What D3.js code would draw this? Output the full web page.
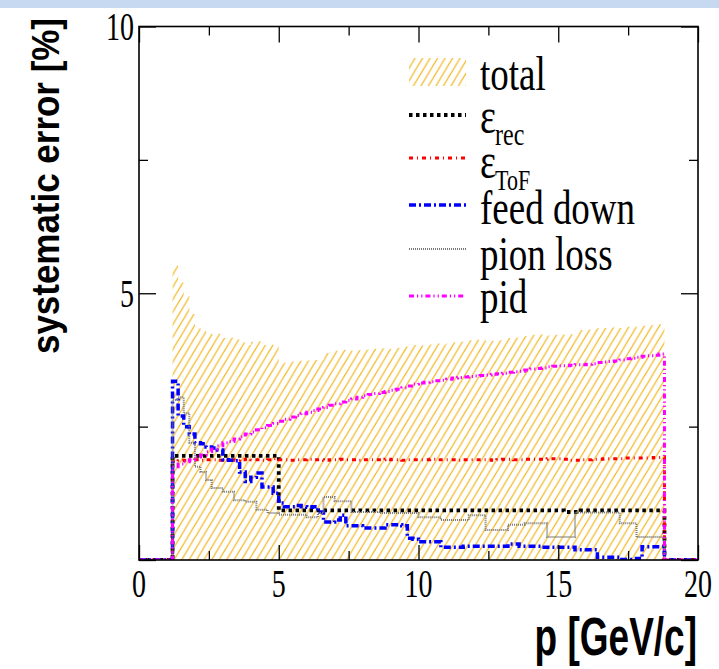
<!DOCTYPE html>
<html><head><meta charset="utf-8">
<script src="https://cdn.jsdelivr.net/npm/d3@7"></script>
<style>body{margin:0;background:#fff}svg{display:block}</style>
</head><body>
<svg id="c" width="719" height="669"></svg>
<script>
// ---------- data ----------
const pEdges = [1.2,1.4,1.6,1.8,2.0,2.2,2.4,2.6,2.8,3.0,
  3.2,3.4,3.6,3.8,4.0,4.2,4.4,4.6,4.8,5.0,
  5.2,5.4,5.6,5.8,6.0,6.2,6.4,6.6,6.8,7.0,
  7.2,7.4,7.6,7.8,8.0,8.2,8.4,8.6,8.8,9.0,
  9.2,9.4,9.6,9.8,10.0,10.2,10.4,10.6,10.8,11.0,
  11.2,11.4,11.6,11.8,12.0,12.2,12.4,12.6,12.8,13.0,
  13.2,13.4,13.6,13.8,14.0,14.2,14.4,14.6,14.8,15.0,
  15.2,15.4,15.6,15.8,16.0,16.2,16.4,16.6,16.8,17.0,
  17.2,17.4,17.6,17.8,18.0,18.2,18.4,18.6,18.8];

const total = [5.52,5.2,4.95,4.61,4.35,4.32,4.27,4.23,4.24,4.16,
  4.17,4.14,4.08,4.03,4.09,4.1,4.03,4.04,4.03,3.68,
  3.7,3.72,3.73,3.74,3.74,3.75,3.75,3.88,3.9,3.92,
  3.94,3.93,3.92,3.93,3.94,3.95,3.96,3.97,3.95,3.96,
  3.98,4.0,4.0,4.03,4.02,4.03,4.04,4.06,4.04,4.06,
  4.08,4.09,4.1,4.12,4.13,4.14,4.1,4.11,4.12,4.13,
  4.16,4.17,4.18,4.2,4.22,4.22,4.23,4.21,4.22,4.23,
  4.22,4.23,4.31,4.31,4.32,4.33,4.35,4.35,4.36,4.37,
  4.35,4.37,4.38,4.36,4.39,4.4,4.41,4.42];

const effRec = [1.95,1.95,1.95,1.95,1.95,1.95,1.95,1.95,1.95,1.95,
  1.95,1.95,1.95,1.95,1.95,1.95,1.95,1.95,1.95,0.93,
  0.93,0.93,0.93,0.93,0.93,0.93,0.93,0.93,0.93,0.93,
  0.93,0.93,0.93,0.93,0.93,0.93,0.93,0.93,0.93,0.93,
  0.93,0.93,0.93,0.93,0.93,0.93,0.93,0.93,0.93,0.93,
  0.93,0.93,0.93,0.93,0.93,0.93,0.93,0.93,0.93,0.93,
  0.93,0.93,0.93,0.93,0.93,0.93,0.93,0.93,0.93,0.93,
  0.9,0.9,0.9,0.93,0.93,0.93,0.93,0.93,0.93,0.93,
  0.93,0.93,0.93,0.93,0.93,0.93,0.93,0.93];

const effToF = [1.84,1.86,1.87,1.87,1.88,1.87,1.88,1.88,1.87,1.88,
  1.88,1.87,1.88,1.89,1.88,1.88,1.87,1.88,1.9,1.88,
  1.88,1.87,1.88,1.88,1.89,1.88,1.88,1.87,1.88,1.88,
  1.89,1.88,1.88,1.87,1.88,1.88,1.88,1.88,1.89,1.88,
  1.88,1.87,1.88,1.88,1.88,1.88,1.89,1.88,1.88,1.88,
  1.88,1.87,1.88,1.88,1.88,1.88,1.88,1.87,1.88,1.89,
  1.89,1.88,1.88,1.89,1.89,1.89,1.89,1.9,1.9,1.9,
  1.89,1.87,1.87,1.88,1.88,1.89,1.89,1.9,1.9,1.9,
  1.9,1.91,1.91,1.91,1.91,1.91,1.92,1.92];

const feedDown = [3.35,2.7,2.5,2.36,2.2,2.18,2.12,2.1,2.06,1.88,
  1.87,1.86,1.65,1.47,1.55,1.63,1.37,1.37,1.25,1.07,
  1.0,1.0,1.02,1.0,0.99,1.0,0.9,0.71,0.71,0.75,
  0.84,0.64,0.64,0.64,0.6,0.6,0.6,0.6,0.66,0.66,
  0.66,0.64,0.41,0.39,0.34,0.34,0.34,0.34,0.24,0.24,
  0.24,0.24,0.26,0.26,0.26,0.26,0.26,0.26,0.26,0.26,
  0.3,0.3,0.26,0.26,0.26,0.26,0.24,0.24,0.24,0.24,
  0.24,0.24,0.19,0.19,0.19,0.19,0.05,0.05,0.05,0.05,
  0.01,0.01,0.01,0.03,0.25,0.25,0.25,0.25];

const pionLoss = [3.0,3.05,2.75,2.2,1.75,1.65,1.5,1.35,1.35,1.28,
  1.28,1.12,1.12,1.09,1.09,0.94,0.94,0.88,0.88,0.85,
  0.85,0.85,0.85,0.85,0.8,0.8,0.88,1.18,1.18,1.1,
  1.1,1.1,0.9,0.9,0.9,0.9,0.9,0.88,0.88,0.88,
  0.88,0.88,0.88,0.88,0.8,0.8,0.8,0.8,0.75,0.75,
  0.75,0.75,0.75,0.84,0.84,0.84,0.56,0.56,0.56,0.56,
  0.66,0.66,0.66,0.69,0.69,0.69,0.69,0.43,0.43,0.43,
  0.43,0.43,0.89,0.89,0.89,0.89,0.89,0.89,0.89,0.89,
  0.69,0.69,0.69,0.43,0.43,0.43,0.43,0.43];

const pid = [1.75,1.8,1.84,1.88,1.93,1.97,2.03,2.08,2.14,2.2,
  2.22,2.27,2.31,2.36,2.4,2.44,2.48,2.52,2.56,2.6,
  2.64,2.68,2.71,2.74,2.77,2.8,2.83,2.86,2.9,2.93,
  2.96,2.99,3.02,3.05,3.08,3.1,3.12,3.14,3.16,3.18,
  3.2,3.23,3.26,3.3,3.32,3.33,3.34,3.36,3.37,3.39,
  3.41,3.42,3.43,3.44,3.45,3.46,3.47,3.48,3.49,3.5,
  3.52,3.53,3.54,3.56,3.58,3.59,3.6,3.62,3.63,3.64,
  3.64,3.65,3.66,3.66,3.67,3.68,3.7,3.71,3.72,3.73,
  3.75,3.77,3.78,3.8,3.82,3.83,3.84,3.86];

const xMajorTicks = [0,5,10,15,20];
const xMinorTicks = [2.5,7.5,12.5,17.5];
const yMajorTicks = [0,5,10];
const yMinorTicks = [2.5,7.5];
const xTickLabels = ["0","5","10","15","20"];
const yTickLabels = [{v:5,t:"5"},{v:10,t:"10"}];

// ---------- layout ----------
const svg = d3.select("#c");
const X0 = 139, X1 = 698, Y0 = 560, Y1 = 26.5;
const x = d3.scaleLinear().domain([0,20]).range([X0,X1]);
const y = d3.scaleLinear().domain([0,10]).range([Y0,Y1]);

svg.append("rect").attr("x",0).attr("y",0).attr("width",719).attr("height",8).attr("fill","#c6d9f0");

const defs = svg.append("defs");
const hw = 7.5, hh = 12.5;
const pat = defs.append("pattern").attr("id","hatch").attr("patternUnits","userSpaceOnUse")
  .attr("width",hw).attr("height",hh);
pat.append("path")
  .attr("d",`M0,${hh} L${hw},0 M${-hw/2},${hh/2} L${hw/2},${-hh/2} M${hw/2},${hh*1.5} L${hw*1.5},${hh/2}`)
  .attr("stroke","#f3bb2c").attr("stroke-width",1.3).attr("fill","none");
defs.append("clipPath").attr("id","frameClip").append("rect")
  .attr("x",X0).attr("y",Y1).attr("width",X1-X0).attr("height",Y0-Y1);

const plot = svg.append("g").attr("clip-path","url(#frameClip)");

// total hatched area
const bins = total.map((v,i)=>({a:pEdges[i], b:pEdges[i+1], v}));
const areaPts = [];
bins.forEach(d=>{ areaPts.push([d.a,d.v]); areaPts.push([d.b,d.v]); });
plot.append("path")
  .attr("d", d3.area().x(d=>x(d[0])).y0(y(0)).y1(d=>y(d[1]))(areaPts))
  .attr("fill","url(#hatch)");

function histPoints(vals){
  const pts = [[0,0],[pEdges[0],0]];
  vals.forEach((v,i)=>{ pts.push([pEdges[i],v]); pts.push([pEdges[i+1],v]); });
  pts.push([pEdges[pEdges.length-1],0]); pts.push([20,0]);
  return pts;
}
const line = d3.line().x(d=>x(d[0])).y(d=>y(d[1]));

const series = [
  {name:"rec",  vals:effRec,   color:"#000000", w:3.8, dash:"3.5 3.5"},
  {name:"tof",  vals:effToF,   color:"#ff0000", w:3,   dash:"4 4 1 4"},
  {name:"fd",   vals:feedDown, color:"#0000ff", w:3.5, dash:"7 3 2 3"},
  {name:"pion", vals:pionLoss, color:"#7a7a7a", w:2,   dash:"1 1"},
  {name:"pid",  vals:pid,      color:"#ff00ff", w:3,   dash:"5 3 1.2 3 1.2 3"}
];
series.forEach(s=>{
  plot.append("path").attr("d", line(histPoints(s.vals)))
    .attr("fill","none").attr("stroke",s.color).attr("stroke-width",s.w)
    .attr("stroke-dasharray",s.dash).attr("stroke-linejoin","miter");
});

// ---------- axes ----------
const axG = svg.append("g");
function addAxis(gen, tr){
  const g = axG.append("g").attr("transform",tr).call(gen);
  g.select(".domain").remove();
  g.selectAll(".tick line").attr("stroke","#000").attr("stroke-width",1.3);
  g.selectAll(".tick text").remove();
}
addAxis(d3.axisBottom(x).tickValues(xMajorTicks).tickSizeInner(-15).tickSizeOuter(0).tickFormat(""), `translate(0,${Y0})`);
addAxis(d3.axisBottom(x).tickValues(xMinorTicks).tickSizeInner(-9).tickSizeOuter(0).tickFormat(""), `translate(0,${Y0})`);
addAxis(d3.axisTop(x).tickValues(xMajorTicks).tickSizeInner(-16).tickSizeOuter(0).tickFormat(""), `translate(0,${Y1})`);
addAxis(d3.axisTop(x).tickValues(xMinorTicks).tickSizeInner(-9).tickSizeOuter(0).tickFormat(""), `translate(0,${Y1})`);
addAxis(d3.axisLeft(y).tickValues(yMajorTicks).tickSizeInner(-17).tickSizeOuter(0).tickFormat(""), `translate(${X0},0)`);
addAxis(d3.axisLeft(y).tickValues(yMinorTicks).tickSizeInner(-9).tickSizeOuter(0).tickFormat(""), `translate(${X0},0)`);
addAxis(d3.axisRight(y).tickValues(yMajorTicks).tickSizeInner(-17).tickSizeOuter(0).tickFormat(""), `translate(${X1},0)`);
addAxis(d3.axisRight(y).tickValues(yMinorTicks).tickSizeInner(-9).tickSizeOuter(0).tickFormat(""), `translate(${X1},0)`);

svg.append("rect").attr("x",X0).attr("y",Y1).attr("width",X1-X0).attr("height",Y0-Y1)
  .attr("fill","none").attr("stroke","#000").attr("stroke-width",1.6);

// ---------- text ----------
function stext(px,py,str,o){
  const t = svg.append("text")
    .attr("transform",`translate(${px},${py}) rotate(${o.rot||0}) scale(${o.sx||1},${o.sy||1})`)
    .attr("text-anchor",o.anchor||"start")
    .attr("font-family",o.family||"Liberation Serif")
    .attr("font-size",o.size).attr("font-weight",o.weight||"normal")
    .attr("fill","#000").text(str);
  return t;
}
const serif = "'Liberation Serif','Times New Roman',serif";
const sans = "'Liberation Sans',Arial,sans-serif";

xMajorTicks.forEach((v,i)=>stext(x(v),597,xTickLabels[i],{size:28,sy:1.45,anchor:"middle",family:serif}));
yTickLabels.forEach(d=>stext(134,y(d.v)+13.5,d.t,{size:28,sy:1.45,anchor:"end",family:serif}));

stext(697,655,"p [GeV/c]",{size:37,sy:1.45,anchor:"end",family:sans,weight:"bold"});
stext(59,18,"systematic error [%]",{size:38,sx:0.92,rot:-90,anchor:"end",family:sans,weight:"bold"});

// ---------- legend ----------
const legY = [72,115,158,205,249,296];
const lx0 = 409, lx1 = 466, tx = 480, sy = 1.33;
svg.append("rect").attr("x",lx0).attr("y",legY[0]-14).attr("width",lx1-lx0).attr("height",28).attr("fill","url(#hatch)");
stext(tx,90,"total",{size:37,sy,family:serif});
series.forEach((s,i)=>{
  svg.append("line").attr("x1",lx0).attr("x2",lx1).attr("y1",legY[i+1]).attr("y2",legY[i+1])
    .attr("stroke",s.color).attr("stroke-width",s.w).attr("stroke-dasharray",s.dash);
});
stext(tx,133,"ε",{size:38,sy,family:serif});
stext(tx+15,145,"rec",{size:24,sy,family:serif});
stext(tx,178,"ε",{size:38,sy,family:serif});
stext(tx+15,190,"ToF",{size:22,sy,family:serif});
stext(tx,224,"feed down",{size:37,sy,family:serif});
stext(tx,270,"pion loss",{size:37,sy,family:serif});
stext(tx,313,"pid",{size:37,sy,family:serif});
</script>
</body></html>
